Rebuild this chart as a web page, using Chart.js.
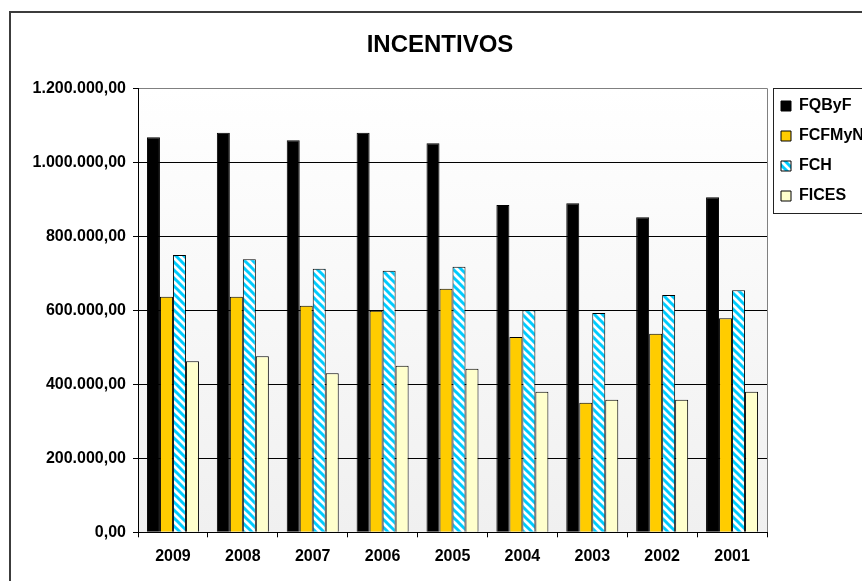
<!DOCTYPE html>
<html>
<head>
<meta charset="utf-8">
<title>INCENTIVOS</title>
<script src="https://cdn.jsdelivr.net/npm/chart.js@4.4.1/dist/chart.umd.min.js"></script>
<style>
  html, body { margin: 0; padding: 0; background: #fff; overflow: hidden; }
  #chart { display: block; }
</style>
</head>
<body>
<canvas id="chart" width="862" height="581"></canvas>
<script>
'use strict';

/* ── Data ─────────────────────────────────────────────────── */
const years   = ['2009', '2008', '2007', '2006', '2005', '2004', '2003', '2002', '2001'];
const fqbyf   = [1067600, 1080000, 1059500, 1080000, 1051300, 884600, 889200, 851300, 905400];
const fcfmyn  = [636800, 636800, 612400, 598900, 658400, 527800, 350300, 536800, 578400];
const fch     = [749500, 737800, 712400, 707000, 717800, 600000, 592700, 641300, 654000];
const fices   = [462200, 475700, 429700, 450300, 442200, 380000, 358400, 358400, 380000];
const seriesNames = ['FQByF', 'FCFMyN', 'FCH', 'FICES'];
const yMax  = 1200000;
const yStep = 200000;

const FONT = "'Liberation Sans', Arial, sans-serif";

/* ── Helpers ──────────────────────────────────────────────── */
// 1200000 -> "1.200.000,00"
function fmtEs(v) {
  const int = Math.round(v).toString().replace(/\B(?=(\d{3})+(?!\d))/g, '.');
  return int + ',00';
}

// cyan / white downward diagonal stripes (Excel style)
function stripePattern() {
  const c = document.createElement('canvas');
  c.width = c.height = 8;
  const p = c.getContext('2d');
  p.fillStyle = '#ffffff';
  p.fillRect(0, 0, 8, 8);
  p.strokeStyle = '#00ccff';
  p.lineWidth = 3;
  for (const x0 of [-8, 0, 8]) {
    p.beginPath();
    p.moveTo(x0 - 2, -2);
    p.lineTo(x0 + 10, 10);
    p.stroke();
  }
  return document.getElementById('chart').getContext('2d').createPattern(c, 'repeat');
}

/* ── Plugin: frame, plot background, legend box ──────────── */
const decorations = {
  id: 'decorations',
  beforeDraw(chart) {
    const { ctx, chartArea: a } = chart;
    ctx.save();
    // outer chart frame (continues past the window)
    ctx.strokeStyle = '#3c3c3c';
    ctx.lineWidth = 2;
    ctx.strokeRect(10, 12, 1000, 1000);
    // plot area gradient
    const g = ctx.createLinearGradient(0, a.top, 0, a.bottom);
    g.addColorStop(0, '#ffffff');
    g.addColorStop(1, '#f0f0f0');
    ctx.fillStyle = g;
    ctx.fillRect(a.left, a.top, a.right - a.left, a.bottom - a.top);
    ctx.strokeStyle = '#808080';
    ctx.lineWidth = 1;
    ctx.beginPath();
    ctx.moveTo(Math.round(a.right) + 0.5, a.top);
    ctx.lineTo(Math.round(a.right) + 0.5, a.bottom);
    ctx.stroke();
    ctx.restore();
  },
  afterDraw(chart) {
    const { ctx, chartArea: a, legend } = chart;
    const boxes = legend.legendHitBoxes;
    if (!boxes || !boxes.length) return;
    const last = boxes[boxes.length - 1];
    const top = Math.round(a.top) + 0.5;
    const bottom = Math.round(last.top + last.height + 9) + 0.5;
    ctx.save();
    ctx.strokeStyle = '#222';
    ctx.lineWidth = 1;
    ctx.strokeRect(Math.round(legend.left + 6) + 0.5, top, 200, bottom - top);
    ctx.restore();
  }
};

/* ── Chart ────────────────────────────────────────────────── */
const stripes = stripePattern();

new Chart(document.getElementById('chart'), {
  type: 'bar',
  data: {
    labels: years,
    datasets: [
      { label: seriesNames[0], data: fqbyf,  backgroundColor: '#000000', borderColor: '#000', borderWidth: 1 },
      { label: seriesNames[1], data: fcfmyn, backgroundColor: '#ffcc00', borderColor: '#000', borderWidth: 1 },
      { label: seriesNames[2], data: fch,    backgroundColor: stripes,   borderColor: '#000', borderWidth: 1 },
      { label: seriesNames[3], data: fices,  backgroundColor: '#ffffcc', borderColor: '#000', borderWidth: 1 },
    ],
  },
  options: {
    responsive: false,
    animation: false,
    events: [],
    layout: { padding: { left: 18, right: 0, top: 0, bottom: 0 } },
    datasets: {
      bar: { categoryPercentage: 0.744, barPercentage: 1 },
    },
    scales: {
      x: {
        grid: { offset: true, drawOnChartArea: false, drawTicks: true, tickLength: 5, tickColor: '#000', color: '#000' },
        border: { display: true, color: '#000', width: 1 },
        ticks: { color: '#000', padding: 10, font: { family: FONT, size: 16, weight: 'bold' }, maxRotation: 0 },
        afterFit: s => { s.height = 48.7; },
      },
      y: {
        min: 0,
        max: yMax,
        grid: {
          color: c => (c.tick && c.tick.value === yMax ? '#808080' : '#000'),
          tickColor: '#000',
          tickLength: 5,
        },
        border: { display: true, color: '#000', width: 1 },
        ticks: {
          stepSize: yStep,
          color: '#000',
          padding: 7,
          font: { family: FONT, size: 16, weight: 'bold' },
          callback: v => fmtEs(v),
        },
        afterFit: s => { s.width = 120; },
      },
    },
    plugins: {
      title: {
        display: true,
        text: 'INCENTIVOS',
        color: '#000',
        font: { family: FONT, size: 24, weight: 'bold', lineHeight: 1.2 },
        padding: { top: 30.6, bottom: 28.9 },
      },
      legend: {
        position: 'right',
        align: 'start',
        maxWidth: 95,
        title: { display: true, text: '', font: { size: 10, lineHeight: 1 }, padding: { top: 74, bottom: 0 } },
        labels: {
          boxWidth: 10,
          boxHeight: 10,
          padding: 14,
          color: '#000',
          font: { family: FONT, size: 16, weight: 'bold' },
        },
      },
      tooltip: { enabled: false },
    },
  },
  plugins: [decorations],
});
</script>
</body>
</html>
